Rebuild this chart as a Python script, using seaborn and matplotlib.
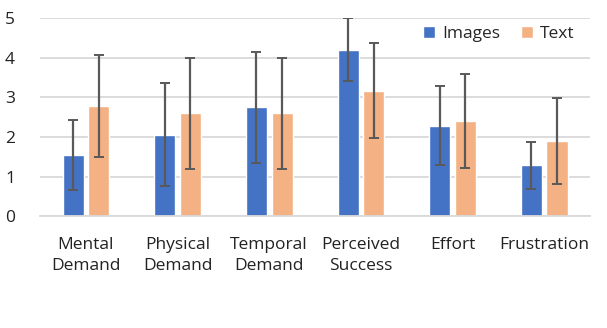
import numpy as np
import pandas as pd
import seaborn as sns
from matplotlib import pyplot as plt

categories = ["Mental\nDemand", "Physical\nDemand", "Temporal\nDemand", "Perceived\nSuccess", "Effort", "Frustration"]
images_mean = [1.55, 2.05, 2.75, 4.20, 2.28, 1.28]
images_sd = [0.88, 1.30, 1.40, 0.79, 1.00, 0.60]
text_mean = [2.78, 2.60, 2.60, 3.17, 2.40, 1.90]
text_sd = [1.29, 1.40, 1.40, 1.19, 1.18, 1.09]

df = pd.DataFrame({
    "category": categories * 2,
    "group": ["Images"] * len(categories) + ["Text"] * len(categories),
    "score": images_mean + text_mean,
    "sd": images_sd + text_sd,
})

sns.set_style("white")
plt.rcParams["font.family"] = ["Open Sans", "DejaVu Sans"]

fig = plt.figure(figsize=(6.07, 3.28), dpi=100)
ax = fig.add_axes([0.066, 0.341, 0.906, 0.604])

palette = {"Images": "#4472C4", "Text": "#F4B183"}
sns.barplot(data=df, x="category", y="score", hue="group", palette=palette,
            width=0.56, gap=0.18, errorbar=None, saturation=1, ax=ax, zorder=2)

# error bars on top of each bar
for container, grp in zip(ax.containers, ["Images", "Text"]):
    sub = df[df["group"] == grp]
    xs = [p.get_x() + p.get_width() / 2 for p in container.patches]
    ax.errorbar(xs, sub["score"], yerr=sub["sd"], fmt="none", ecolor="#595959",
                elinewidth=1.6, capsize=3.5, capthick=1.4, zorder=3)

ax.set_ylim(0, 5)
ax.set_yticks(range(6))
ax.set_xlim(-0.5, 5.5)
ax.yaxis.grid(True, color="#D9D9D9", linewidth=1.3, zorder=0)
ax.set_axisbelow(True)
for s in ["top", "right", "left"]:
    ax.spines[s].set_visible(False)
ax.spines["bottom"].set_color("#D9D9D9")
ax.spines["bottom"].set_linewidth(1.3)
ax.tick_params(axis="both", length=0, labelsize=12.5, colors="#222222")
ax.tick_params(axis="y", pad=18)
ax.tick_params(axis="x", pad=15)
for lbl in ax.get_xticklabels():
    lbl.set_linespacing(1.45)
ax.set_xlabel("")
ax.set_ylabel("")

leg = ax.legend(loc="upper right", ncol=2, frameon=False, fontsize=12.5,
                handlelength=0.7, handleheight=0.7, columnspacing=1.2,
                handletextpad=0.4, bbox_to_anchor=(1.0, 1.04))

fig.savefig("out.png", dpi=100)
